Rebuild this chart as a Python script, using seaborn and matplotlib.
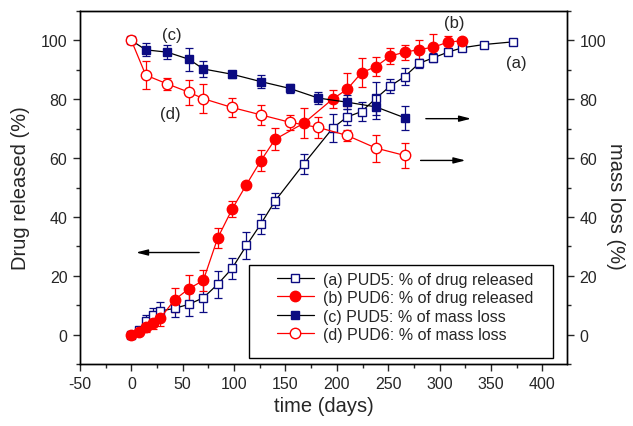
import matplotlib
matplotlib.use("Agg")
import matplotlib.pyplot as plt
from matplotlib.patches import Rectangle
from matplotlib.ticker import MultipleLocator
import seaborn as sns

sns.set_style("ticks")
plt.rcParams['font.family'] = ['Liberation Sans', 'DejaVu Sans']
plt.rcParams['axes.unicode_minus'] = False

# (a) PUD5 drug release
t_rel_pud5 = [0, 7, 14, 21, 28, 42, 56, 70, 84, 98, 112, 126, 140, 168, 196,
              210, 224, 238, 252, 266, 280, 294, 308, 322, 343, 371]
rel_pud5 = [0, 1.5, 4.5, 6.5, 8.0, 8.9, 10.3, 12.5, 17.1, 22.5, 30.3, 37.6, 45.5,
            58.1, 70.2, 74.0, 75.8, 80.3, 84.5, 87.7, 92.2, 94.1, 96.0, 97.5,
            98.6, 99.5]
rel_pud5_err = [0.5, 1.0, 2.0, 2.5, 3.0, 3.0, 4.0, 4.9, 4.5, 3.6, 4.7, 3.5, 2.5,
                3.4, 4.9, 2.8, 3.1, 5.6, 2.5, 2.8, 1.5, 1.5, 1.0, 1.0, 1.0, 1.0]

# (b) PUD6 drug release
t_rel_pud6 = [0, 7, 14, 21, 28, 42, 56, 70, 84, 98, 112, 126, 140, 168, 196,
              210, 224, 238, 252, 266, 280, 294, 308, 322]
rel_pud6 = [0, 1.0, 2.5, 3.8, 5.5, 11.8, 15.6, 18.4, 32.8, 42.6, 51.0, 59.1, 66.4,
            71.9, 80.1, 83.4, 89.0, 91.1, 94.7, 96.0, 96.9, 97.7, 99.4, 99.9]
rel_pud6_err = [0.5, 1.0, 1.5, 2.0, 2.5, 4.2, 4.5, 3.7, 3.4, 2.7, 1.0, 3.6, 3.8,
                5.0, 3.1, 5.6, 4.9, 3.1, 2.8, 2.5, 3.3, 4.4, 2.1, 1.0]

# (c) PUD5 and (d) PUD6 residual mass
t_mass = [0, 14, 35, 56, 70, 98, 126, 154, 182, 210, 238, 266]
mass_pud5 = [100, 96.8, 96.0, 93.6, 90.3, 88.5, 86.0, 83.7, 80.4, 79.0, 77.4, 73.7]
mass_pud5_err = [0.5, 2.2, 2.4, 3.9, 2.6, 1.2, 2.1, 1.5, 2.1, 2.3, 4.0, 4.1]
mass_pud6 = [100, 88.2, 85.2, 82.4, 80.2, 77.2, 74.7, 72.2, 70.4, 67.7, 63.4, 60.9]
mass_pud6_err = [0.5, 4.7, 2.0, 4.3, 5.0, 3.3, 3.5, 2.6, 3.7, 2.0, 4.6, 4.3]

series_labels = ["(a) PUD5: % of drug released",
                 "(b) PUD6: % of drug released",
                 "(c) PUD5: % of mass loss",
                 "(d) PUD6: % of mass loss"]

NAVY = "#0b0b82"
RED = "#ff0000"

fig = plt.figure(figsize=(6.33, 4.27), dpi=100)
ax = fig.add_axes([80 / 633, 1 - 365 / 427, 487 / 633, 353 / 427])
ax2 = ax.twinx()


def draw(axis, t, v, err, line_color, marker, face, edge, ms, label):
    axis.errorbar(t, v, yerr=err, fmt='none', ecolor=edge, elinewidth=0.9,
                  capsize=2.8, capthick=0.9, zorder=2)
    sns.lineplot(x=t, y=v, ax=axis, color=line_color, marker=marker,
                 markerfacecolor=face, markeredgecolor=edge, markersize=ms,
                 markeredgewidth=1.0, linewidth=0.9, label=label, zorder=3)


draw(ax, t_rel_pud5, rel_pud5, rel_pud5_err, "black", "s", "white", NAVY, 6.0,
     series_labels[0])
draw(ax, t_rel_pud6, rel_pud6, rel_pud6_err, RED, "o", RED, RED, 7.5,
     series_labels[1])
draw(ax2, t_mass, mass_pud5, mass_pud5_err, "black", "s", NAVY, NAVY, 6.0,
     series_labels[2])
draw(ax2, t_mass, mass_pud6, mass_pud6_err, RED, "o", "white", RED, 7.5,
     series_labels[3])

for a in (ax, ax2):
    a.set_ylim(-10, 110)
    a.yaxis.set_major_locator(MultipleLocator(20))
    a.yaxis.set_minor_locator(MultipleLocator(10))
ax.set_xlim(-50, 424)
ax.xaxis.set_major_locator(MultipleLocator(50))
ax.xaxis.set_minor_locator(MultipleLocator(25))

ax.tick_params(axis='both', which='major', direction='out', length=5, width=1,
               labelsize=11.5, pad=4, right=False, top=False)
ax.tick_params(axis='both', which='minor', direction='out', length=3, width=1,
               right=False, top=False)
ax2.tick_params(axis='y', which='major', direction='out', length=5, width=1,
                labelsize=11.5, pad=4)
ax2.tick_params(axis='y', which='minor', direction='out', length=3, width=1)

for a in (ax, ax2):
    for s in a.spines.values():
        s.set_linewidth(1.0)
        s.set_color("black")

ax.set_xlabel("time (days)", fontsize=14.5, labelpad=3)
ax.set_ylabel("Drug released (%)", fontsize=14.5, labelpad=8)
ax2.set_ylabel("mass loss (%)", fontsize=14.5, rotation=270,
               ha='center', va='center')
ax2.yaxis.set_label_coords(1.10, 0.45)

# series tags
ax.text(39, 102, "(c)", fontsize=12, ha='center', va='center')
ax.text(38, 75, "(d)", fontsize=12, ha='center', va='center')
ax.text(314, 106, "(b)", fontsize=12, ha='center', va='center')
ax.text(375, 92.4, "(a)", fontsize=12, ha='center', va='center')

# arrows pointing to the relevant axis
arrow = dict(arrowstyle='-|>,head_length=0.7,head_width=0.18', color='black',
             lw=1.0, shrinkA=0, shrinkB=0)
ax.annotate("", xy=(4.5, 27.9), xytext=(66, 27.9), arrowprops=arrow)
ax.annotate("", xy=(330.7, 73.4), xytext=(286.6, 73.4), arrowprops=arrow)
ax.annotate("", xy=(325.2, 59.2), xytext=(281.5, 59.2), arrowprops=arrow)

h1, l1 = ax.get_legend_handles_labels()
h2, l2 = ax2.get_legend_handles_labels()
if ax.get_legend() is not None:
    ax.get_legend().remove()
if ax2.get_legend() is not None:
    ax2.get_legend().remove()

# legend frame with a wider left margin than top/bottom
frame = Rectangle((0.347, 0.017), 0.624, 0.2635, transform=ax2.transAxes,
                  facecolor='white', edgecolor='black', linewidth=1.0,
                  zorder=4.5)
ax2.add_patch(frame)
leg = ax2.legend(h1 + h2, l1 + l2, loc='upper left',
                 bbox_to_anchor=(0.4045, 0.262), borderaxespad=0, borderpad=0,
                 fontsize=11.5, frameon=False, labelspacing=0.22,
                 handlelength=2.3, handletextpad=0.55)
leg.set_zorder(5)

fig.savefig("out.png", dpi=100)
